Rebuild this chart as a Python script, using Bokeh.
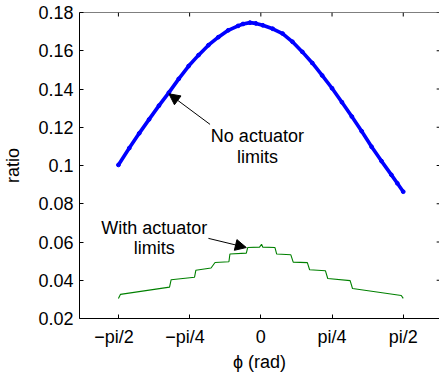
import numpy as np
from bokeh.plotting import figure
from bokeh.models import FixedTicker, Range1d, Arrow, NormalHead, Span
from bokeh.core.properties import value
from bokeh.embed import file_html
from bokeh.resources import INLINE

PI = np.pi

# "No actuator limits" (blue dots)
blue_x = [-1.5708, -1.4508, -1.3417, -1.2326, -1.1236, -1.0145, -0.9054, -0.7963, -0.6872,
          -0.5781, -0.4691, -0.3600, -0.2509, -0.1963, -0.1200, -0.0545, 0.0218, 0.1309,
          0.2400, 0.3491, 0.4581, 0.5672, 0.6763, 0.7854, 0.8945, 1.0036, 1.1126, 1.2217,
          1.3308, 1.4399, 1.5054, 1.5708]
blue_y = [0.1003, 0.1091, 0.1168, 0.1241, 0.1313, 0.1381, 0.1453, 0.1520, 0.1577,
          0.1629, 0.1671, 0.1707, 0.1730, 0.1740, 0.1747, 0.1743, 0.1733, 0.1715,
          0.1690, 0.1647, 0.1594, 0.1536, 0.1471, 0.1404, 0.1331, 0.1256, 0.1179, 0.1098,
          0.1023, 0.0951, 0.0907, 0.0863]

# "With actuator limits" (green stepped line)
green_x = [-1.5708, -1.549, -1.007, -0.989, -0.731, -0.717, -0.549, -0.505, -0.352, -0.341,
           -0.160, -0.145, -0.014, 0.008, 0.022, 0.156, 0.175, 0.331, 0.357, 0.513,
           0.538, 0.712, 0.738, 0.985, 1.011, 1.549, 1.5708]
green_y = [0.0305, 0.0326, 0.0364, 0.0403, 0.0416, 0.0452, 0.0464, 0.0493, 0.0497, 0.0537,
           0.0542, 0.0571, 0.0573, 0.0588, 0.0573, 0.0571, 0.0537, 0.0533, 0.0495, 0.0492,
           0.0455, 0.0450, 0.0409, 0.0398, 0.0357, 0.0320, 0.0305]

x_ticks = [-PI / 2, -PI / 4, 0.0, PI / 4, PI / 2]
x_tick_labels = ["\u2212pi/2\u2002", "\u2212pi/4\u2002", "0", "pi/4", "pi/2"]
y_ticks = [0.02, 0.04, 0.06, 0.08, 0.1, 0.12, 0.14, 0.16, 0.18]
y_tick_labels = ["0.02", "0.04", "0.06", "0.08", "0.1", "0.12", "0.14", "0.16", "0.18"]

XLIM = (-2.0, 2.0)       # axis limits (right part of the box lies past the window)
X_VISIBLE_END = 1.9706   # what fits in the 439 px window
YLIM = (0.02, 0.18)

# annotations (data units)
ann_text_x = [-0.038, -0.038, -1.175, -1.175]
ann_text_y = [0.1153, 0.1044, 0.0671, 0.0568]
ann_text = ["No actuator", "limits", "With actuator", "limits"]
arrow_no = dict(x_start=-0.560, y_start=0.1215, x_end=-1.014, y_end=0.1375)
arrow_with = dict(x_start=-0.578, y_start=0.0619, x_end=-0.160, y_end=0.0571)

FONT = "Liberation Sans"
FS = "18px"
TICK = 4

p = figure(width=439, height=374, output_backend="svg", toolbar_location=None,
           x_range=Range1d(XLIM[0], X_VISIBLE_END), y_range=Range1d(*YLIM),
           min_border_left=75, min_border_right=0, min_border_top=12, min_border_bottom=53,
           x_axis_label="\u03d5 (rad)", y_axis_label="ratio")
p.grid.visible = False
p.outline_line_color = None
p.background_fill_color = "white"
p.border_fill_color = "white"


def style_axis(ax, ticks, labels):
    ax.ticker = FixedTicker(ticks=ticks)
    ax.axis_line_color = "black"
    ax.axis_line_width = 1
    ax.major_tick_line_color = "black"
    ax.major_tick_in = TICK
    ax.major_tick_out = 0
    ax.minor_tick_line_color = None
    ax.major_label_text_font = FONT
    ax.major_label_text_font_size = FS
    ax.major_label_text_color = "black"
    ax.axis_label_text_font = FONT
    ax.axis_label_text_font_size = FS
    ax.axis_label_text_font_style = "normal"
    ax.axis_label_text_color = "black"
    ax.major_label_overrides = {t: l for t, l in zip(ticks, labels)}


xa = p.xaxis[0]
style_axis(xa, x_ticks, x_tick_labels)
xa.major_label_standoff = 8
xa.axis_label_standoff = 2

ya = p.yaxis[0]
style_axis(ya, y_ticks, y_tick_labels)
ya.major_label_standoff = 6
ya.axis_label_standoff = 12

# top edge of the box
p.add_layout(Span(location=YLIM[1], dimension="width", line_color="black", line_width=1))
# inward ticks on the top edge and on the (off-window) right edge
p.ray(x=x_ticks, y=[YLIM[1]] * len(x_ticks), length=TICK, length_units="screen",
      angle=-PI / 2, line_color="black", line_width=1)
p.ray(x=[XLIM[1]] * len(y_ticks), y=y_ticks, length=TICK + 1.5, length_units="screen",
      angle=PI, line_color="black", line_width=1)

p.line(blue_x, blue_y, line_color="#0000ff", line_width=3.6)
p.scatter(blue_x, blue_y, size=3.8, fill_color="#0000ff", line_color="#0000ff")
p.line(green_x, green_y, line_color="#008000", line_width=1.1)

p.text(x=ann_text_x, y=ann_text_y, text=ann_text, text_align="center", text_baseline="middle",
       text_font=value(FONT), text_font_size=FS, text_color="black")

for a in (arrow_no, arrow_with):
    p.add_layout(Arrow(end=NormalHead(size=11, fill_color="black", line_color="black"),
                       line_color="black", line_width=1, **a))

open("out.html", "w").write(file_html(p, INLINE))
